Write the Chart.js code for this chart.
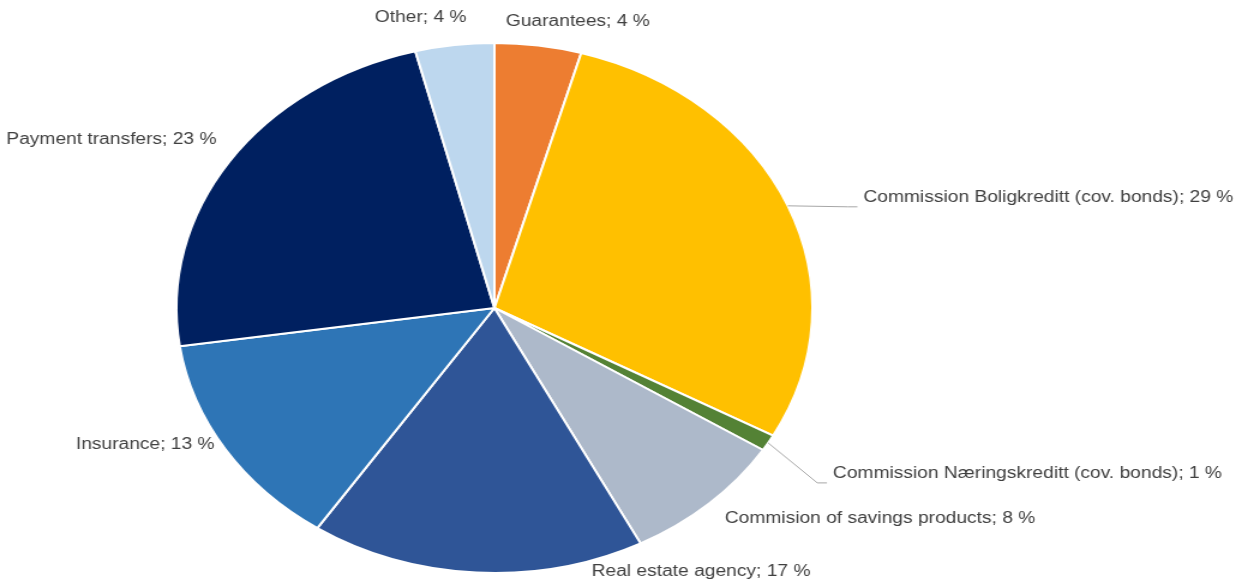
<!DOCTYPE html>
<html>
<head>
<meta charset="utf-8">
<script src="https://cdn.jsdelivr.net/npm/chart.js@4/dist/chart.umd.min.js"></script>
<style>
  html, body { margin: 0; padding: 0; background: #fff; overflow: hidden; }
  /* the original picture is stretched sideways, so the whole chart is too */
  #wrap { width: 1036px; height: 584px; transform: scaleX(1.2); transform-origin: 0 0; }
</style>
</head>
<body>
<div id="wrap"><canvas id="pieChart"></canvas></div>
<script>
const categories = [
  "Guarantees",
  "Commission Boligkreditt (cov. bonds)",
  "Commission Næringskreditt (cov. bonds)",
  "Commision of savings products",
  "Real estate agency",
  "Insurance",
  "Payment transfers",
  "Other",
];
// shares
const shares = [4.4, 28.6, 1.0, 8.4, 17.0, 13.3, 23.3, 4.0];
// percent shown in the labels
const shownPct = [4, 29, 1, 8, 17, 13, 23, 4];
const colors = ["#ED7D31", "#FFC000", "#548235", "#ADB9CA", "#2F5597", "#2E75B6", "#002060", "#BDD7EE"];

// label placement relative to the slice edge (dx, dy, align, leader)
const labelLayout = [
  { dx: -27, dy: -24, align: "left", leader: false },
  { dx: 63, dy: -8, align: "left", leader: true },
  { dx: 54, dy: 31, align: "left", leader: true },
  { dx: 13, dy: 15, align: "left", leader: false },
  { dx: 96, dy: -1, align: "left", leader: false },
  { dx: -9, dy: -5, align: "right", leader: false },
  { dx: -11, dy: -22, align: "right", leader: false },
  { dx: 10, dy: -27, align: "right", leader: false },
];

const pieLabels = {
  id: "pieLabels",
  afterDraw(chart) {
    const ctx = chart.ctx;
    const arcs = chart.getDatasetMeta(0).data;
    ctx.save();
    ctx.font = "16px 'Liberation Sans', Arial, sans-serif";
    ctx.fillStyle = "#404040";
    ctx.textBaseline = "middle";
    arcs.forEach((arc, i) => {
      const p = arc.getProps(["x", "y", "startAngle", "endAngle", "outerRadius"], true);
      const mid = (p.startAngle + p.endAngle) / 2;
      const ex = p.x + Math.cos(mid) * p.outerRadius;
      const ey = p.y + Math.sin(mid) * p.outerRadius;
      const lay = labelLayout[i];
      const tx = ex + lay.dx;
      const ty = ey + lay.dy;
      if (lay.leader) {
        ctx.strokeStyle = "#A6A6A6";
        ctx.lineWidth = 1;
        ctx.beginPath();
        ctx.moveTo(ex, ey);
        ctx.lineTo(tx - 13, ty + 9);
        ctx.lineTo(tx - 5, ty + 9);
        ctx.stroke();
      }
      ctx.textAlign = lay.align;
      ctx.fillText(categories[i] + "; " + shownPct[i] + " %", tx, ty);
    });
    ctx.restore();
  },
};

var ctx = document.getElementById("pieChart").getContext("2d");
var myChart = new Chart(ctx, {
  type: "pie",
  data: {
    labels: categories,
    datasets: [
      {
        data: shares,
        backgroundColor: colors,
        borderColor: "#ffffff",
        borderWidth: 2,
      },
    ],
  },
  options: {
    responsive: true,
    maintainAspectRatio: false,
    animation: false,
    layout: { padding: { top: 42, bottom: 10, left: 146, right: 358 } },
    plugins: {
      legend: { display: false },
      tooltip: { enabled: false },
    },
  },
  plugins: [pieLabels],
});
</script>
</body>
</html>
